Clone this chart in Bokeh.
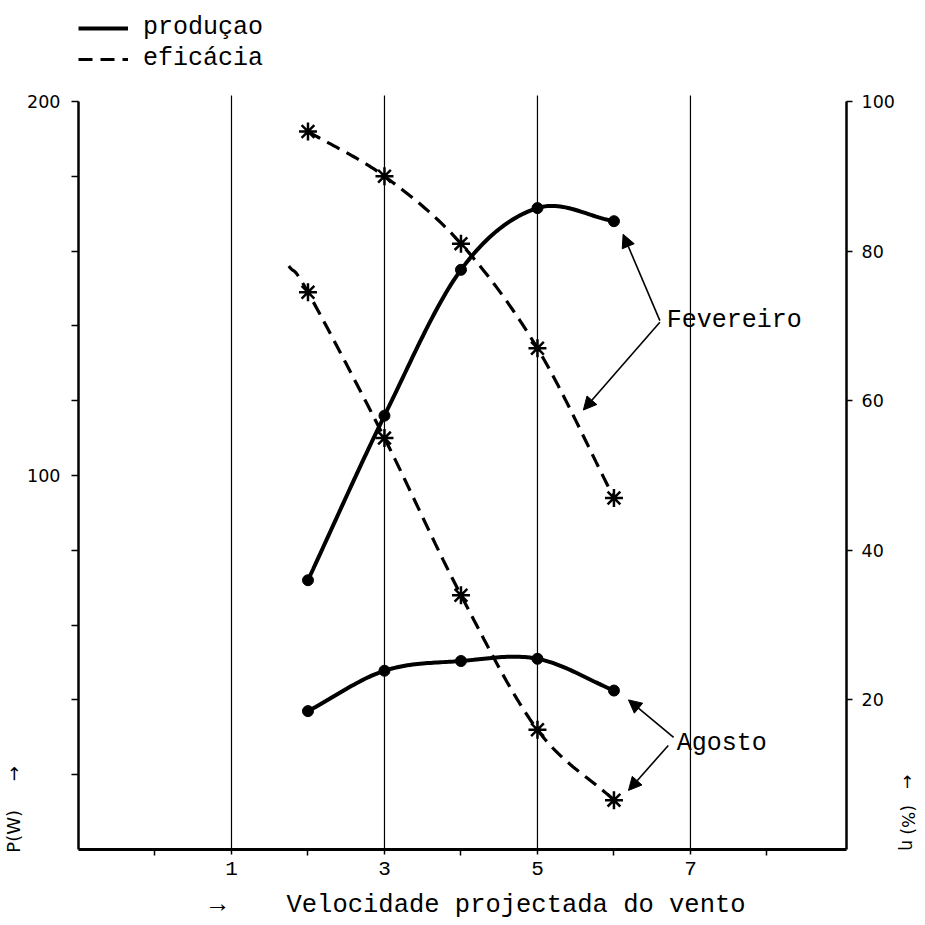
import numpy as np
from bokeh.plotting import figure
from bokeh.models import (Range1d, LinearAxis, FixedTicker, Label, Arrow,
                          NormalHead, Legend, LegendItem)
from bokeh.embed import file_html
from bokeh.resources import INLINE

# ---------------- data ----------------
speed = [2, 3, 4, 5, 6]                       # Velocidade projectada do vento
fev_producao = [72, 116, 155, 171.5, 168]     # P (W), Fevereiro
ago_producao = [37, 47.8, 50.4, 51, 42.5]     # P (W), Agosto
fev_eficacia = [96, 90, 81, 67, 47]           # eta (%), Fevereiro
ago_eficacia = [74.5, 55, 34, 16, 6.6]        # eta (%), Agosto
# the dashed Agosto curve starts a little before its first point
ago_eficacia_lead_x = [1.75]
ago_eficacia_lead_y = [78]

x_ticks = [1, 3, 5, 7]
x_minor = [0, 2, 4, 6, 8]
p_ticks = [100, 200]
p_minor = [20, 40, 60, 80, 120, 140, 160, 180]
eta_ticks = [20, 40, 60, 80, 100]
p_max, eta_max = 200, 100
grid_top = 201.6            # the vertical rules run slightly past 200

# annotation positions (data units)
fev_label = (6.69, 141.4)
fev_arrows = [((6.60, 141.4), (6.12, 164.5)), ((6.60, 141.0), (5.60, 117.5))]
ago_label = (6.82, 28.3)
ago_arrows = [((6.78, 30.0), (6.19, 40.0)), ((6.71, 27.8), (6.19, 15.8))]

MONO = "Liberation Mono"
NB = "\u00a0"

# the frame reaches the top of the canvas so the legend can live inside it
Y_TOP = 224.87


def smooth(xs, ys, n=30):
    """Catmull-Rom line through the read points (drawing only)."""
    P = np.column_stack([xs, ys]).astype(float)
    P = np.vstack([2 * P[0] - P[1], P, 2 * P[-1] - P[-2]])
    out = []
    t = np.linspace(0, 1, n, endpoint=False)[:, None]
    for i in range(1, len(P) - 2):
        p0, p1, p2, p3 = P[i - 1], P[i], P[i + 1], P[i + 2]
        seg = 0.5 * ((2 * p1) + (-p0 + p2) * t
                     + (2 * p0 - 5 * p1 + 4 * p2 - p3) * t ** 2
                     + (-p0 + 3 * p1 - 3 * p2 + p3) * t ** 3)
        out.append(seg)
    out.append(P[-2][None, :])
    a = np.vstack(out)
    return a[:, 0], a[:, 1]


p = figure(frame_width=768, frame_height=841,
           x_range=Range1d(-1, 9.04), y_range=Range1d(0, Y_TOP),
           output_backend="svg", toolbar_location=None,
           min_border_left=72, min_border_right=69,
           min_border_top=8, min_border_bottom=68)
p.extra_y_ranges = {"eta": Range1d(0, Y_TOP / 2)}
p.outline_line_color = None
p.background_fill_color = "white"
p.border_fill_color = "white"

# x axis
xa = p.xaxis[0]
xa.ticker = FixedTicker(ticks=x_ticks, minor_ticks=x_minor)
xa.axis_line_width = 3
xa.axis_line_color = "black"
xa.major_tick_out = 5
xa.major_tick_in = 0
xa.minor_tick_out = 6
xa.minor_tick_in = 0
xa.minor_tick_line_width = 1.5
xa.major_tick_line_width = 1.5
xa.major_label_text_font = MONO
xa.major_label_text_font_size = "21px"
xa.major_label_text_color = "black"
xa.major_label_standoff = 6
xa.axis_label = NB * 2 + "→" + NB * 4 + "Velocidade projectada do vento"
xa.axis_label_text_font = MONO
xa.axis_label_text_font_size = "25.5px"
xa.axis_label_text_font_style = "normal"
xa.axis_label_text_color = "black"
xa.axis_label_standoff = 13

# left axis
ya = p.yaxis[0]
ya.bounds = (0, p_max)
ya.ticker = FixedTicker(ticks=p_ticks, minor_ticks=p_minor)
ya.axis_line_width = 2.5
ya.axis_line_color = "black"
ya.major_tick_out = 7
ya.major_tick_in = 0
ya.minor_tick_out = 7
ya.minor_tick_in = 0
ya.major_tick_line_width = 1.5
ya.minor_tick_line_width = 1.5
ya.major_label_text_font = "DejaVu Sans"
ya.major_label_text_font_size = "17.5px"
ya.major_label_text_color = "black"
ya.major_label_standoff = 11
ya.axis_label = "P(W)" + NB * 5 + "→" + NB * 133
ya.axis_label_text_font = "DejaVu Sans"
ya.axis_label_text_font_size = "18px"
ya.axis_label_text_font_style = "normal"
ya.axis_label_text_color = "black"
ya.axis_label_standoff = 0

# right axis
ra = LinearAxis(y_range_name="eta", bounds=(0, eta_max),
                ticker=FixedTicker(ticks=eta_ticks, minor_ticks=[]))
ra.axis_line_width = 2.5
ra.axis_line_color = "black"
ra.major_tick_out = 6
ra.major_tick_in = 0
ra.major_tick_line_width = 1.5
ra.minor_tick_out = 0
ra.minor_tick_in = 0
ra.major_label_text_font = "DejaVu Sans"
ra.major_label_text_font_size = "17.5px"
ra.major_label_text_color = "black"
ra.major_label_standoff = 9
# arrow on top, then (%), then eta at the bottom of the right edge
ra.axis_label = NB * 142 + "←" + NB * 3 + "(%)" + NB + "η"
ra.axis_label_text_font = "DejaVu Sans"
ra.axis_label_text_font_size = "17px"
ra.axis_label_text_font_style = "normal"
ra.axis_label_text_color = "black"
ra.axis_label_standoff = 0
p.add_layout(ra, "right")

# vertical rules at the odd speeds
p.xgrid.visible = False
p.ygrid.visible = False
p.segment(x0=x_ticks, y0=[0] * len(x_ticks), x1=x_ticks,
          y1=[grid_top] * len(x_ticks), line_color="black", line_width=1.2)

# ---------------- curves ----------------
fx, fy = smooth(speed, fev_producao)
r_fp = p.line(fx, fy, line_color="black", line_width=4)
ax_, ay_ = smooth(speed, ago_producao)
p.line(ax_, ay_, line_color="black", line_width=4)

fex, fey = smooth(speed, fev_eficacia)
r_fe = p.line(fex, fey, line_color="black", line_width=3.2,
              line_dash="14 8", y_range_name="eta")
aex, aey = smooth(ago_eficacia_lead_x + speed, ago_eficacia_lead_y + ago_eficacia)
p.line(aex, aey, line_color="black", line_width=3.2,
       line_dash="14 8", y_range_name="eta")

p.scatter(speed, fev_producao, marker="circle", size=11, color="black")
p.scatter(speed, ago_producao, marker="circle", size=11, color="black")
p.scatter(speed, fev_eficacia, marker="asterisk", size=18, line_width=2.5,
          line_color="black", y_range_name="eta")
p.scatter(speed, ago_eficacia, marker="asterisk", size=18, line_width=2.5,
          line_color="black", y_range_name="eta")

# ---------------- annotations ----------------
for (x0, y0), (x1, y1) in fev_arrows + ago_arrows:
    p.add_layout(Arrow(x_start=x0, y_start=y0, x_end=x1, y_end=y1,
                       line_width=1.6, line_color="black",
                       end=NormalHead(size=13, fill_color="black",
                                      line_color="black", line_width=1)))

p.add_layout(Label(x=fev_label[0], y=fev_label[1], text="Fevereiro",
                   text_font=MONO, text_font_size="25px", text_color="black",
                   text_baseline="middle", text_align="left"))
p.add_layout(Label(x=ago_label[0], y=ago_label[1], text="Agosto",
                   text_font=MONO, text_font_size="25px", text_color="black",
                   text_baseline="middle", text_align="left"))

legend = Legend(items=[LegendItem(label="produçao", renderers=[r_fp]),
                       LegendItem(label="eficácia", renderers=[r_fe])],
                location=(0, 776), orientation="vertical",
                glyph_width=50, glyph_height=24, label_height=24,
                spacing=2, padding=0, margin=0, label_standoff=15,
                border_line_color=None, background_fill_alpha=0,
                label_text_font=MONO, label_text_font_size="25px",
                label_text_color="black")
p.add_layout(legend)

open("out.html", "w").write(file_html(p, INLINE))
